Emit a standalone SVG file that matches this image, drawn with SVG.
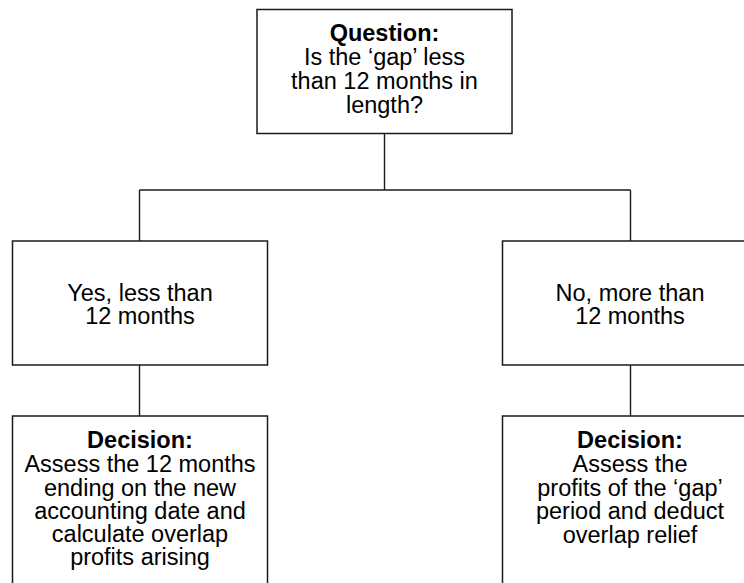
<svg xmlns="http://www.w3.org/2000/svg" width="744" height="583" viewBox="0 0 744 583">
<style>
.box{fill:#fff;stroke:#1a1a1a;stroke-width:1.5}
.ln{stroke:#1a1a1a;stroke-width:1.4;fill:none}
text{font-family:"Liberation Sans",Arial,sans-serif;font-size:23.5px;fill:#000;text-anchor:middle}
.b{font-weight:bold}
</style>
<rect width="744" height="583" fill="#fff"/>
<g id="connectors">
<line class="ln" x1="384.5" y1="133" x2="384.5" y2="190"/>
<line class="ln" x1="139.5" y1="190" x2="630.5" y2="190"/>
<line class="ln" x1="139.5" y1="190" x2="139.5" y2="241"/>
<line class="ln" x1="630.5" y1="190" x2="630.5" y2="241"/>
<line class="ln" x1="139.5" y1="365" x2="139.5" y2="416"/>
<line class="ln" x1="630.5" y1="365" x2="630.5" y2="416"/>
</g>
<g id="question">
<rect class="box" x="257" y="9.5" width="255" height="124"/>
<text x="384.5" y="41" class="b">Question:</text>
<text x="384.5" y="65">Is the ‘gap’ less</text>
<text x="384.5" y="89">than 12 months in</text>
<text x="384.5" y="113">length?</text>
</g>
<g id="yes">
<rect class="box" x="12.5" y="241" width="255" height="124"/>
<text x="140" y="300.5">Yes, less than</text>
<text x="140" y="323.5">12 months</text>
</g>
<g id="no">
<rect class="box" x="502.5" y="241" width="255" height="124"/>
<text x="630" y="300.5">No, more than</text>
<text x="630" y="323.5">12 months</text>
</g>
<g id="decision-yes">
<rect class="box" x="12.5" y="416" width="255" height="200"/>
<text x="140" y="448" class="b">Decision:</text>
<text x="140" y="472">Assess the 12 months</text>
<text x="140" y="495.5">ending on the new</text>
<text x="140" y="518.5">accounting date and</text>
<text x="140" y="542">calculate overlap</text>
<text x="140" y="565">profits arising</text>
</g>
<g id="decision-no">
<rect class="box" x="502.5" y="416" width="255" height="200"/>
<text x="630" y="448" class="b">Decision:</text>
<text x="630" y="472">Assess the</text>
<text x="630" y="495.5">profits of the ‘gap’</text>
<text x="630" y="519">period and deduct</text>
<text x="630" y="543">overlap relief</text>
</g>
</svg>
